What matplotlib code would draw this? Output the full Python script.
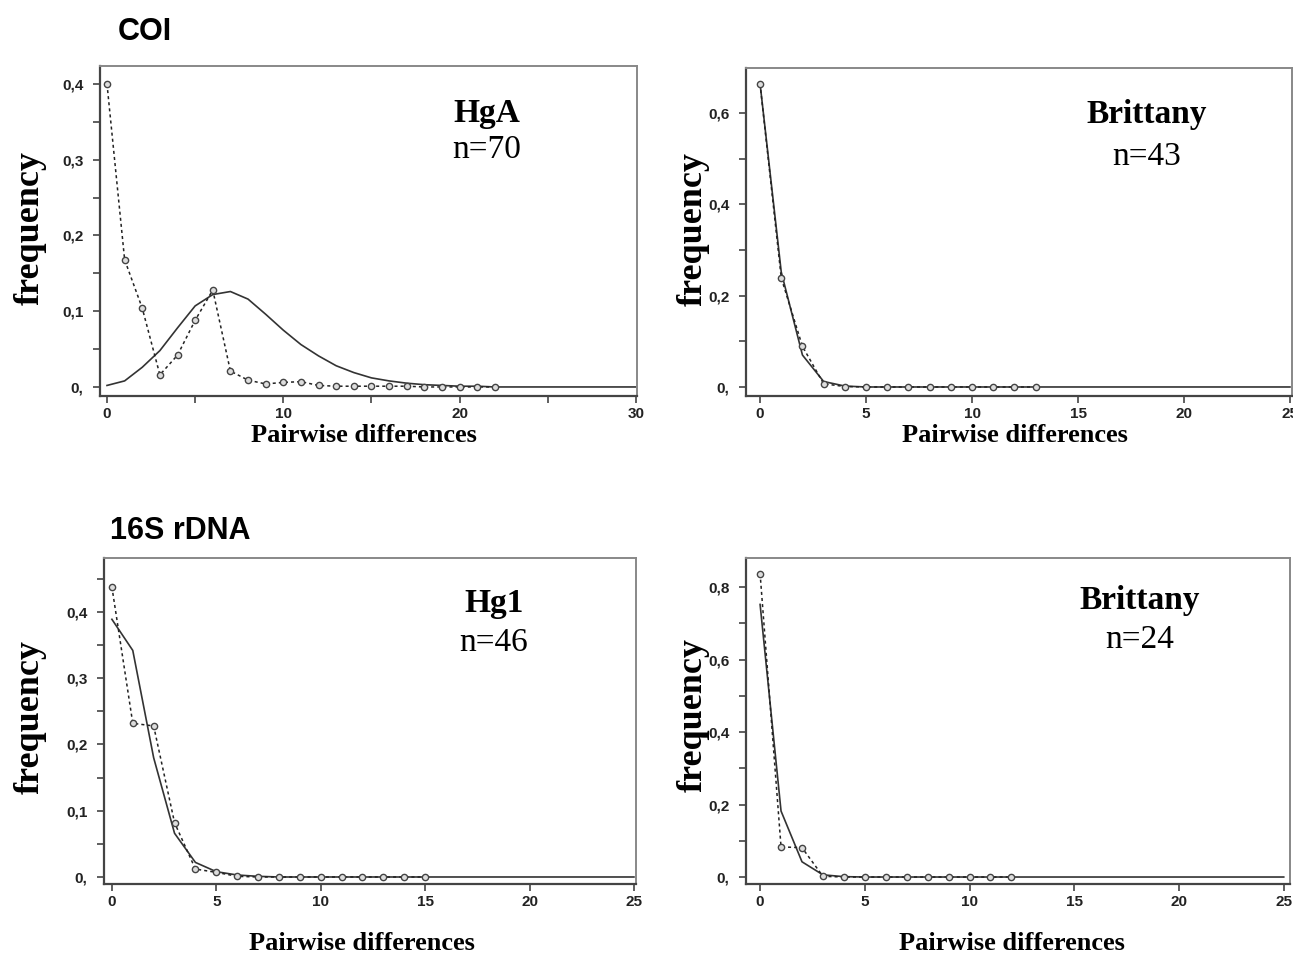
import numpy as np
import matplotlib
matplotlib.use("Agg")
import matplotlib.pyplot as plt
from matplotlib.ticker import MultipleLocator, FuncFormatter

# observed (dotted, circles) and expected (solid) mismatch distributions
coi_hga_obs = [0.400, 0.168, 0.104, 0.016, 0.042, 0.088, 0.128, 0.021, 0.009, 0.004,
               0.006, 0.007, 0.002, 0.001, 0.001, 0.001, 0.001, 0.001, 0.0, 0.0,
               0.0, 0.0, 0.0]
coi_hga_exp = [0.002, 0.008, 0.026, 0.048, 0.078, 0.107, 0.122, 0.126, 0.116, 0.096,
               0.075, 0.056, 0.041, 0.028, 0.019, 0.012, 0.008, 0.005, 0.003, 0.002,
               0.001, 0.001, 0.0, 0.0, 0.0, 0.0, 0.0, 0.0, 0.0, 0.0, 0.0]

coi_brit_obs = [0.664, 0.239, 0.089, 0.007, 0.001, 0.0, 0.0, 0.0, 0.0, 0.0,
                0.0, 0.0, 0.0, 0.0]
coi_brit_exp = [0.665, 0.252, 0.070, 0.012, 0.002] + [0.0] * 21

s16_hg1_obs = [0.438, 0.232, 0.228, 0.082, 0.012, 0.007, 0.001, 0.0, 0.0, 0.0,
               0.0, 0.0, 0.0, 0.0, 0.0, 0.0]
s16_hg1_exp = [0.389, 0.342, 0.180, 0.066, 0.022, 0.008, 0.003, 0.001] + [0.0] * 18

s16_brit_obs = [0.837, 0.083, 0.081, 0.002, 0.0, 0.0, 0.0, 0.0, 0.0, 0.0,
                0.0, 0.0, 0.0]
s16_brit_exp = [0.752, 0.182, 0.042, 0.006, 0.001] + [0.0] * 21

panels = [
    dict(rect=[0.0773, 0.5858, 0.4153, 0.3452], obs=coi_hga_obs, exp=coi_hga_exp,
         xlim=(-0.4, 30.06), ylim=(-0.0119, 0.4238), xmaj=10, xmin=5, ymaj=0.1, ymin=0.05,
         name="HgA", n="n=70", tx=0.72, ty=(0.857, 0.745), xl=(0.492, -0.121), yl=(-0.13, 0.51)),
    dict(rect=[0.577, 0.5858, 0.4223, 0.3431], obs=coi_brit_obs, exp=coi_brit_exp,
         xlim=(-0.66, 25.1), ylim=(-0.0197, 0.699), xmaj=5, xmin=None, ymaj=0.2, ymin=0.1,
         name="Brittany", n="n=43", tx=0.733, ty=(0.857, 0.729), xl=(0.493, -0.122), yl=(-0.097, 0.51)),
    dict(rect=[0.0804, 0.0753, 0.4115, 0.341], obs=s16_hg1_obs, exp=s16_hg1_exp,
         xlim=(-0.38, 25.1), ylim=(-0.0106, 0.4815), xmaj=5, xmin=None, ymaj=0.1, ymin=0.05,
         name="Hg1", n="n=46", tx=0.733, ty=(0.862, 0.739), xl=(0.485, -0.181), yl=(-0.139, 0.512)),
    dict(rect=[0.577, 0.0753, 0.4207, 0.341], obs=s16_brit_obs, exp=s16_brit_exp,
         xlim=(-0.67, 25.3), ylim=(-0.0193, 0.88), xmaj=5, xmin=None, ymaj=0.2, ymin=0.1,
         name="Brittany", n="n=24", tx=0.724, ty=(0.871, 0.748), xl=(0.489, -0.181), yl=(-0.097, 0.518)),
]


def yfmt(v, pos):
    if abs(v) < 1e-9:
        return "0,"
    return ("%.1f" % v).replace(".", ",")


fig = plt.figure(figsize=(12.93, 9.56), dpi=100)
serif = "Liberation Serif"
sans = "Liberation Sans"

for p in panels:
    ax = fig.add_axes(p["rect"])
    xo = np.arange(len(p["obs"]))
    xe = np.arange(len(p["exp"]))
    ax.plot(xe, p["exp"], color="#333333", lw=1.2, zorder=2)
    ax.plot(xo, p["obs"], color="#222222", lw=1.1, ls=(0, (2, 2)), marker="o",
            ms=4.5, mfc="#dddddd", mec="#444444", mew=1.0, zorder=3)
    ax.set_xlim(*p["xlim"])
    ax.set_ylim(*p["ylim"])
    ax.xaxis.set_major_locator(MultipleLocator(p["xmaj"]))
    if p["xmin"]:
        ax.xaxis.set_minor_locator(MultipleLocator(p["xmin"]))
    ax.yaxis.set_major_locator(MultipleLocator(p["ymaj"]))
    ax.yaxis.set_minor_locator(MultipleLocator(p["ymin"]))
    ax.yaxis.set_major_formatter(FuncFormatter(yfmt))
    ax.tick_params(which="both", direction="out", color="#444444", width=1.2, length=5)
    ax.tick_params(axis="y", pad=7)
    ax.tick_params(axis="x", pad=3)
    for lab in ax.get_xticklabels() + ax.get_yticklabels():
        lab.set_fontfamily(sans)
        lab.set_fontweight("bold")
        lab.set_fontsize(11)
        lab.set_color("#222222")
    for s in ["left", "bottom"]:
        ax.spines[s].set_color("#444444")
        ax.spines[s].set_linewidth(1.6)
    for s in ["top", "right"]:
        ax.spines[s].set_color("#888888")
        ax.spines[s].set_linewidth(1.4)

    ax.text(p["tx"], p["ty"][0], p["name"], transform=ax.transAxes, ha="center",
            va="center", fontsize=24, fontweight="bold", family=serif)
    ax.text(p["tx"], p["ty"][1], p["n"], transform=ax.transAxes, ha="center",
            va="center", fontsize=24, family=serif)

    ax.set_xlabel("Pairwise differences", fontsize=19, fontweight="bold", family=serif)
    ax.xaxis.set_label_coords(*p["xl"])
    ax.xaxis.label.set_va("center")
    ax.set_ylabel("frequency", fontsize=26, fontweight="bold", family=serif)
    ax.yaxis.set_label_coords(*p["yl"])
    ax.yaxis.label.set_va("center")

fig.text(145 / 1293, 1 - 32 / 956, "COI", ha="center", va="center", fontsize=22,
         fontweight="bold", family=sans)
fig.text(180 / 1293, 1 - 531 / 956, "16S rDNA", ha="center", va="center", fontsize=22,
         fontweight="bold", family=sans)

fig.savefig("out.png", dpi=100, facecolor="white")
